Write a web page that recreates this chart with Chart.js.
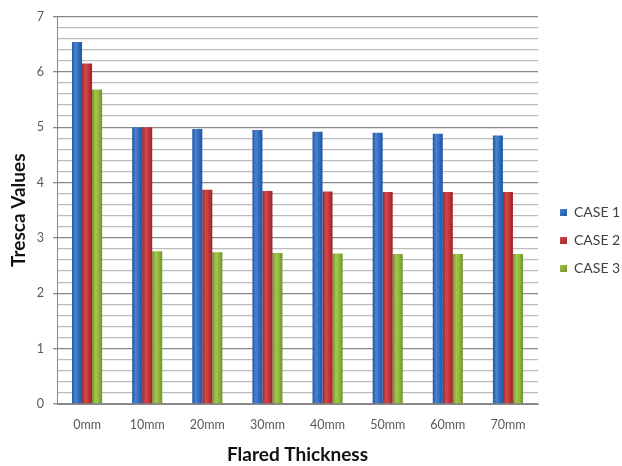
<!DOCTYPE html>
<html>
<head>
<meta charset="utf-8">
<script src="https://cdn.jsdelivr.net/npm/chart.js@4/dist/chart.umd.min.js"></script>
<style>
html,body{margin:0;padding:0;background:#fff;}
#wrap{width:622px;height:466px;position:relative;}
</style>
</head>
<body>
<div id="wrap"><canvas id="c" width="622" height="466"></canvas></div>
<script>
const categories = ['0mm','10mm','20mm','30mm','40mm','50mm','60mm','70mm'];
const seriesNames = ['CASE 1','CASE 2','CASE 3'];
const case1 = [6.54, 5.00, 4.97, 4.95, 4.92, 4.90, 4.88, 4.85];
const case2 = [6.15, 5.00, 3.87, 3.85, 3.84, 3.83, 3.83, 3.83];
const case3 = [5.68, 2.76, 2.74, 2.73, 2.72, 2.71, 2.71, 2.71];
const yTitle = 'Tresca Values';
const xTitle = 'Flared Thickness';

const colors = ['#2f6cc1', '#c1353a', '#8fb83a'];
const dark = ['#22569f', '#9a2529', '#6f9229'];
const light = ['#4a82d2', '#d24a4e', '#a3c94c'];

const isMajor = v => Math.abs(v - Math.round(v)) < 1e-6;

const gradientPlugin = {
  id: 'cyl',
  beforeDatasetsDraw(chart) {
    const ctx = chart.ctx;
    chart.data.datasets.forEach((ds, di) => {
      const meta = chart.getDatasetMeta(di);
      meta.data.forEach(bar => {
        const w = bar.width;
        const x0 = bar.x - w / 2, x1 = bar.x + w / 2;
        const g = ctx.createLinearGradient(x0, 0, x1, 0);
        g.addColorStop(0, dark[di]);
        g.addColorStop(0.35, light[di]);
        g.addColorStop(0.65, colors[di]);
        g.addColorStop(1, dark[di]);
        bar.options = Object.assign({}, bar.options, {backgroundColor: g});
      });
    });
  }
};

const legendPlugin = {
  id: 'sideLegend',
  afterDraw(chart) {
    const ctx = chart.ctx;
    ctx.save();
    ctx.font = '14px Lato';
    ctx.textBaseline = 'middle';
    ctx.textAlign = 'left';
    chart.data.datasets.forEach((ds, i) => {
      const cy = 212.5 + i * 28;
      const g = ctx.createLinearGradient(560, cy - 4, 567, cy + 4);
      g.addColorStop(0, light[i]);
      g.addColorStop(1, dark[i]);
      ctx.fillStyle = g;
      ctx.fillRect(560, cy - 3.5, 7, 7);
      ctx.fillStyle = '#404040';
      ctx.fillText(ds.label, 574, cy);
    });
    ctx.restore();
  }
};

Chart.defaults.font.family = 'Lato';

new Chart(document.getElementById('c'), {
  type: 'bar',
  data: {
    labels: categories,
    datasets: [
      {label: seriesNames[0], data: case1, backgroundColor: colors[0]},
      {label: seriesNames[1], data: case2, backgroundColor: colors[1]},
      {label: seriesNames[2], data: case3, backgroundColor: colors[2]}
    ]
  },
  options: {
    responsive: false,
    animation: false,
    devicePixelRatio: 1,
    datasets: {bar: {categoryPercentage: 0.5, barPercentage: 1.0, borderWidth: 0}},
    layout: {padding: {left: 0, right: 84, top: 15, bottom: 0}},
    plugins: {legend: {display: false}, tooltip: {enabled: false}},
    scales: {
      x: {
        grid: {display: false, drawTicks: false},
        border: {display: true, color: '#868686'},
        ticks: {color: '#595959', font: {size: 12.5}, padding: 13, maxRotation: 0},
        title: {display: true, text: xTitle, color: '#111', font: {size: 19, weight: 'bold'}, padding: {top: 0, bottom: 0}},
        afterFit(s) { s.height = 62; }
      },
      y: {
        min: 0, max: 7,
        grid: {
          color: c => isMajor(c.tick.value) ? '#888888' : '#bcbcbc',
          tickColor: c => isMajor(c.tick.value) ? '#888888' : 'rgba(0,0,0,0)',
          tickLength: 4, lineWidth: 1.3
        },
        border: {display: true, color: '#868686'},
        ticks: {
          stepSize: 0.2, autoSkip: false, color: '#595959', font: {size: 12.5}, padding: 9,
          callback: v => isMajor(v) ? String(Math.round(v)) : ''
        },
        title: {display: true, text: yTitle, color: '#111', font: {size: 19, weight: 'bold'}, padding: {top: 7, bottom: 0}},
        afterFit(s) { s.width = 57; }
      }
    }
  },
  plugins: [gradientPlugin, legendPlugin]
});
</script>
</body>
</html>
